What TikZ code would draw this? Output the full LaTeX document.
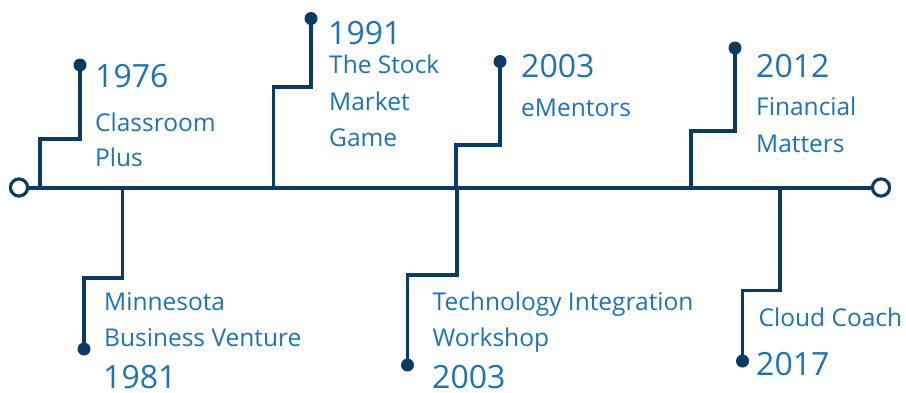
\documentclass[tikz,border=0pt]{standalone}
\usepackage{fontspec}
\setmainfont{Open Sans}
\definecolor{navy}{HTML}{0B3A63}
\definecolor{txtblue}{HTML}{1E72B6}
\begin{document}
\begin{tikzpicture}[x=1pt,y=-1pt,
  mainline/.style={draw=navy,line width=4pt},
  stem/.style={draw=navy,line width=3.5pt},
  endcircle/.style={circle,draw=navy,line width=3pt,fill=white,minimum size=17pt,inner sep=0pt},
  dot/.style={circle,fill=navy,minimum size=13pt,inner sep=0pt},
  year/.style={anchor=base west,inner sep=0pt,text depth=0pt,text=txtblue,font=\fontsize{32}{32}\selectfont},
  lbl/.style={anchor=base west,inner sep=0pt,text=txtblue,font=\fontsize{24.5}{24.5}\selectfont}]
\useasboundingbox (0,0) rectangle (906,392);
% main line
\node[endcircle] (lc) at (19,187.5) {};
\node[endcircle] (rc) at (881,187.5) {};
\draw[mainline] (lc) -- (rc);
\node[endcircle] at (lc) {};
\node[endcircle] at (rc) {};
% stems base coordinates
\coordinate (s1976) at (40,187.5);
\coordinate (s1981) at (122.5,187.5);
\coordinate (s1991) at (273.5,187.5);
\coordinate (s2003a) at (456,187.5);
\coordinate (s2003b) at (457,187.5);
\coordinate (s2012) at (691,187.5);
\coordinate (s2017) at (780,187.5);
% dots
\node[dot] (d1976) at (80,65) {};
\node[dot] (d1981) at (84,349) {};
\node[dot] (d1991) at (311,18.5) {};
\node[dot] (d2003a) at (500,61.5) {};
\node[dot] (d2003b) at (407.5,365) {};
\node[dot] (d2012) at (735,48) {};
\node[dot] (d2017) at (742.5,361) {};
% stems
\draw[stem] (s1976) -- ++(0,-48.5) -| (d1976.center);
\draw[stem] (s1981) -- ++(0,90.5) -| (d1981.center);
\draw[stem] (s1991) -- ++(0,-100.5) -| (d1991.center);
\draw[stem] (s2003a) -- ++(0,-42.5) -| (d2003a.center);
\draw[stem] (s2003b) -- ++(0,87.5) -| (d2003b.center);
\draw[stem] (s2012) -- ++(0,-56.5) -| (d2012.center);
\draw[stem] (s2017) -- ++(0,103) -| (d2017.center);
% texts
\node[year] (y1976) at (95,87.5) {1976};
\node[lbl] (t1976a) at (95,131) {Classroom};
\node[lbl] (t1976b) at (95,166) {Plus};
\node[lbl] (t1981a) at (104,310) {Minnesota};
\node[lbl] (t1981b) at (104,346) {Business Venture};
\node[year] (y1981) at (103,388) {1981};
\node[year] (y1991) at (328,44) {1991};
\node[lbl] (t1991a) at (329,73.5) {The Stock};
\node[lbl] (t1991b) at (329,110) {Market};
\node[lbl] (t1991c) at (329,146) {Game};
\node[year] (y2003a) at (521,77.5) {2003};
\node[lbl] (t2003a) at (521,116) {eMentors};
\node[lbl] (t2003b1) at (432.5,310) {Technology Integration};
\node[lbl] (t2003b2) at (432.5,346) {Workshop};
\node[year] (y2003b) at (432,388) {2003};
\node[year] (y2012) at (756,77) {2012};
\node[lbl] (t2012a) at (756,115) {Financial};
\node[lbl] (t2012b) at (756,152) {Matters};
\node[lbl] (t2017) at (758.5,326) {Cloud Coach};
\node[year] (y2017) at (756,375) {2017};
\end{tikzpicture}
\end{document}
